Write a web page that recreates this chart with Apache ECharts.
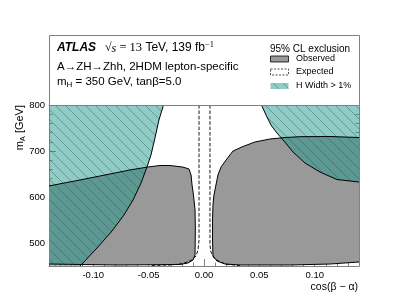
<!DOCTYPE html>
<html><head><meta charset="utf-8">
<script src="https://cdn.jsdelivr.net/npm/echarts@6/dist/echarts.min.js"></script>
<style>html,body{margin:0;padding:0;background:#fff}#c{width:399px;height:299px}</style>
</head><body><div id="c"></div>
<script>
// ---- data (cos(beta-alpha), m_A [GeV]) ----
const xRange = [-0.14, 0.14];
const yRange = [450, 800];
const xMajor = [-0.10, -0.05, 0.00, 0.05, 0.10];
const xMinor = [-0.13,-0.12,-0.11,-0.09,-0.08,-0.07,-0.06,-0.04,-0.03,-0.02,-0.01,0.01,0.02,0.03,0.04,0.06,0.07,0.08,0.09,0.11,0.12,0.13];
const yMajor = [500, 600, 700, 800];
const yMinor = [460,480,520,540,560,580,620,640,660,680,720,740,760,780];

// Observed exclusion, left island (closing segment lies on the left frame)
const observedLeft = [
  [-0.140,624],[-0.112,637],[-0.085,650],[-0.067,658.7],[-0.0506,665.2],[-0.0397,668.5],
  [-0.0307,668.5],[-0.019,665],[-0.0136,661],[-0.0117,648],[-0.0108,626],[-0.0095,604],
  [-0.0081,571.7],[-0.0078,528],[-0.0080,495.6],[-0.0081,474],[-0.0099,463],[-0.0145,456.5],
  [-0.0217,453.3],[-0.0759,452.2],[-0.112,453.3],[-0.140,454.3]
];
// Observed exclusion, right island (closing segment lies on the right frame)
const observedRight = [
  [0.140,458.7],[0.1138,454.3],[0.0777,452.2],[0.0325,452.2],[0.019,454.3],[0.0117,460.9],
  [0.0081,471.7],[0.0077,506.5],[0.0077,550],[0.0081,582.6],[0.0090,604.3],[0.0108,626.1],
  [0.0126,647.8],[0.0154,665.2],[0.0199,680.4],[0.0262,700],[0.0352,709.8],[0.0461,719.6],
  [0.0596,726.1],[0.0732,729.3],[0.0867,731.1],[0.1138,731.5],[0.140,729.3]
];
// Expected exclusion boundaries
const expectedLeft = [
  [-0.0045,800],[-0.0045,506.5],[-0.0054,484.8],[-0.0072,471.7],[-0.0117,462],
  [-0.019,455.4],[-0.0307,452.2],[-0.0488,451.1]
];
const expectedRight = [
  [0.0054,800],[0.0054,495.7],[0.0063,480.4],[0.009,467.4],[0.0145,458.7],
  [0.0217,453.3],[0.0325,451.1]
];
// H width > 1% boundaries
const widthLeftEdge = [
  [-0.0366,800],[-0.0407,767.4],[-0.0443,728.3],[-0.0479,691.3],[-0.0515,665.2],
  [-0.0569,630.4],[-0.0641,593.5],[-0.0723,560.9],[-0.0831,526.1],[-0.0958,491.3],
  [-0.1102,454.3],[-0.112,450]
];
const widthLeftCorners = [[-0.14,450],[-0.14,800]];
const widthRightEdge = [
  [0.0519,800],[0.0560,778.3],[0.0605,756.5],[0.0659,739.1],[0.0714,723.9],
  [0.0804,697.8],[0.0912,673.9],[0.1048,654.3],[0.1201,638],[0.14,632.6]
];
const widthRightCorners = [[0.14,800]];

// ---- styling ----
const FONT = '"Liberation Sans", Arial, Helvetica, sans-serif';
const SERIF = '"Liberation Serif", "Times New Roman", serif';
const FRAME = '#808080';
const GREY = '#999999';
const TEAL = 'rgba(31,153,141,0.5)';

function hatchCanvas(){
  const c = document.createElement('canvas'); c.width = 10; c.height = 10;
  const g = c.getContext('2d');
  g.fillStyle = TEAL; g.fillRect(0,0,10,10);
  g.strokeStyle = 'rgba(45,75,75,0.5)'; g.lineWidth = 0.8;
  g.beginPath();
  g.moveTo(-1,-1); g.lineTo(11,11);
  g.moveTo(-1,9); g.lineTo(1,11);
  g.moveTo(9,-1); g.lineTo(11,1);
  g.stroke();
  return c;
}
const hatch = hatchCanvas();

function polySeries(points, fill, z){
  return {
    type:'custom', coordinateSystem:'cartesian2d', xAxisIndex:0, yAxisIndex:0,
    z:z, silent:true, clip:true, data:[[0,500]],
    renderItem:(params, api)=>({
      type:'polygon',
      shape:{points: points.map(p=>api.coord(p))},
      style:{fill:fill, stroke:'none'}
    })
  };
}
function lineSeries(points, type, z){
  return {
    type:'line', xAxisIndex:0, yAxisIndex:0, data:points, showSymbol:false, symbol:'none',
    silent:true, z:z, clip:true,
    lineStyle:{color:'#000', width:type==='dashed'?0.9:1, type:type}
  };
}

const chart = echarts.init(document.getElementById('c'), null, {renderer:'canvas'});
const axisBase = {
  type:'value', splitLine:{show:false}, axisLabel:{show:false}
};
chart.setOption({
  animation:false,
  backgroundColor:'#fff',
  grid:{left:49, right:40, top:105, bottom:33, containLabel:false},
  xAxis:[
    Object.assign({}, axisBase, {position:'bottom', min:xRange[0], max:xRange[1],
      axisLine:{show:true, onZero:false, lineStyle:{color:FRAME, width:1}},
      axisTick:{show:true, inside:true, length:7, customValues:xMajor, lineStyle:{color:FRAME}},
      axisLabel:{show:true, customValues:xMajor, margin:4, fontSize:9.5, fontFamily:FONT, color:'#000',
        formatter:v=>v.toFixed(2)}}),
    Object.assign({}, axisBase, {position:'bottom', min:xRange[0], max:xRange[1],
      axisLine:{show:false, onZero:false},
      axisTick:{show:true, inside:true, length:3.5, customValues:xMinor, lineStyle:{color:FRAME}}}),
    Object.assign({}, axisBase, {position:'top', min:xRange[0], max:xRange[1],
      axisLine:{show:true, onZero:false, lineStyle:{color:FRAME, width:1}},
      axisTick:{show:false}})
  ],
  yAxis:[
    Object.assign({}, axisBase, {position:'left', min:yRange[0], max:yRange[1],
      axisLine:{show:true, onZero:false, lineStyle:{color:FRAME, width:1}},
      axisTick:{show:true, inside:true, length:7, customValues:yMajor, lineStyle:{color:FRAME}},
      axisLabel:{show:true, customValues:yMajor, margin:4, fontSize:9.5, fontFamily:FONT, color:'#000'}}),
    Object.assign({}, axisBase, {position:'left', min:yRange[0], max:yRange[1],
      axisLine:{show:false, onZero:false},
      axisTick:{show:true, inside:true, length:3.5, customValues:yMinor, lineStyle:{color:FRAME}}}),
    Object.assign({}, axisBase, {position:'right', min:yRange[0], max:yRange[1],
      axisLine:{show:true, onZero:false, lineStyle:{color:FRAME, width:1}},
      axisTick:{show:true, inside:true, length:7, customValues:yMajor, lineStyle:{color:FRAME}}}),
    Object.assign({}, axisBase, {position:'right', min:yRange[0], max:yRange[1],
      axisLine:{show:false, onZero:false},
      axisTick:{show:true, inside:true, length:3.5, customValues:yMinor, lineStyle:{color:FRAME}}})
  ],
  series:[
    polySeries(observedLeft, GREY, 1),
    polySeries(observedRight, GREY, 1),
    polySeries(widthLeftEdge.concat(widthLeftCorners), {image:hatch, repeat:'repeat'}, 2),
    polySeries(widthRightEdge.concat(widthRightCorners), {image:hatch, repeat:'repeat'}, 2),
    lineSeries(observedLeft, 'solid', 3),
    lineSeries(observedRight, 'solid', 3),
    lineSeries(widthLeftEdge, 'solid', 3),
    lineSeries(widthRightEdge, 'solid', 3),
    lineSeries(expectedLeft, 'dashed', 3),
    lineSeries(expectedRight, 'dashed', 3)
  ],
  graphic:[
    {type:'rect', left:49, top:35, shape:{x:0,y:0,width:310,height:70}, z:10,
      style:{fill:'#fff', stroke:FRAME, lineWidth:1}},
    {type:'text', x:57, y:48, z:11, style:{text:'ATLAS', font:'italic bold 12px '+FONT, fill:'#000', textVerticalAlign:'middle'}},
    {type:'text', x:105, y:48, z:11, style:{
      text:'{sq|√}{si|s}{tm| = 13} TeV, 139 fb{sup|−1}',
      font:'12px '+FONT, fill:'#000', textVerticalAlign:'middle',
      rich:{
        sq:{fontFamily:SERIF, fontSize:12},
        si:{fontFamily:SERIF, fontSize:12, fontStyle:'italic', padding:[1,0,0,0]},
        tm:{fontFamily:SERIF, fontSize:12.5},
        sup:{fontFamily:SERIF, fontSize:8.5, padding:[0,0,7,0]}
      }}},
    {type:'text', x:57, y:66.5, z:11, style:{text:'A→ZH→Zhh, 2HDM lepton-specific', font:'11.5px '+FONT, fill:'#000', textVerticalAlign:'middle'}},
    {type:'text', x:57, y:82, z:11, style:{
      text:'m{sub|H} = 350 GeV, tanβ=5.0', font:'11.5px '+FONT, fill:'#000', textVerticalAlign:'middle',
      rich:{sub:{fontSize:8, fontFamily:FONT, padding:[6,0,0,0]}}}},
    {type:'text', x:270, y:49, z:11, style:{text:'95% CL exclusion', font:'10px '+FONT, fill:'#000', textVerticalAlign:'middle'}},
    {type:'rect', z:11, shape:{x:270.5, y:56, width:18, height:6}, style:{fill:GREY, stroke:'#000', lineWidth:0.8}},
    {type:'text', x:296, y:59, z:11, style:{text:'Observed', font:'9px '+FONT, fill:'#000', textVerticalAlign:'middle'}},
    {type:'rect', z:11, shape:{x:270.5, y:69, width:18, height:6}, style:{fill:'#fff', stroke:'#000', lineWidth:0.7, lineDash:[2,1.5]}},
    {type:'text', x:296, y:72, z:11, style:{text:'Expected', font:'9px '+FONT, fill:'#000', textVerticalAlign:'middle'}},
    {type:'rect', z:11, shape:{x:270.5, y:83, width:18, height:6}, style:{fill:{image:hatch, repeat:'repeat'}}},
    {type:'text', x:296, y:86, z:11, style:{text:'H Width > 1%', font:'9px '+FONT, fill:'#000', textVerticalAlign:'middle'}},
    {type:'text', x:20, y:105, rotation:Math.PI/2, z:11, style:{
      text:'m{sub|A} [GeV]', font:'11px '+FONT, fill:'#000', textAlign:'right', textVerticalAlign:'middle',
      rich:{sub:{fontSize:7.5, fontFamily:FONT, padding:[5,0,0,0]}}}},
    {type:'text', x:358, y:287, z:11, style:{text:'cos(β − α)', font:'10.5px '+FONT, fill:'#000', textAlign:'right', textVerticalAlign:'middle'}}
  ]
});
</script></body></html>
